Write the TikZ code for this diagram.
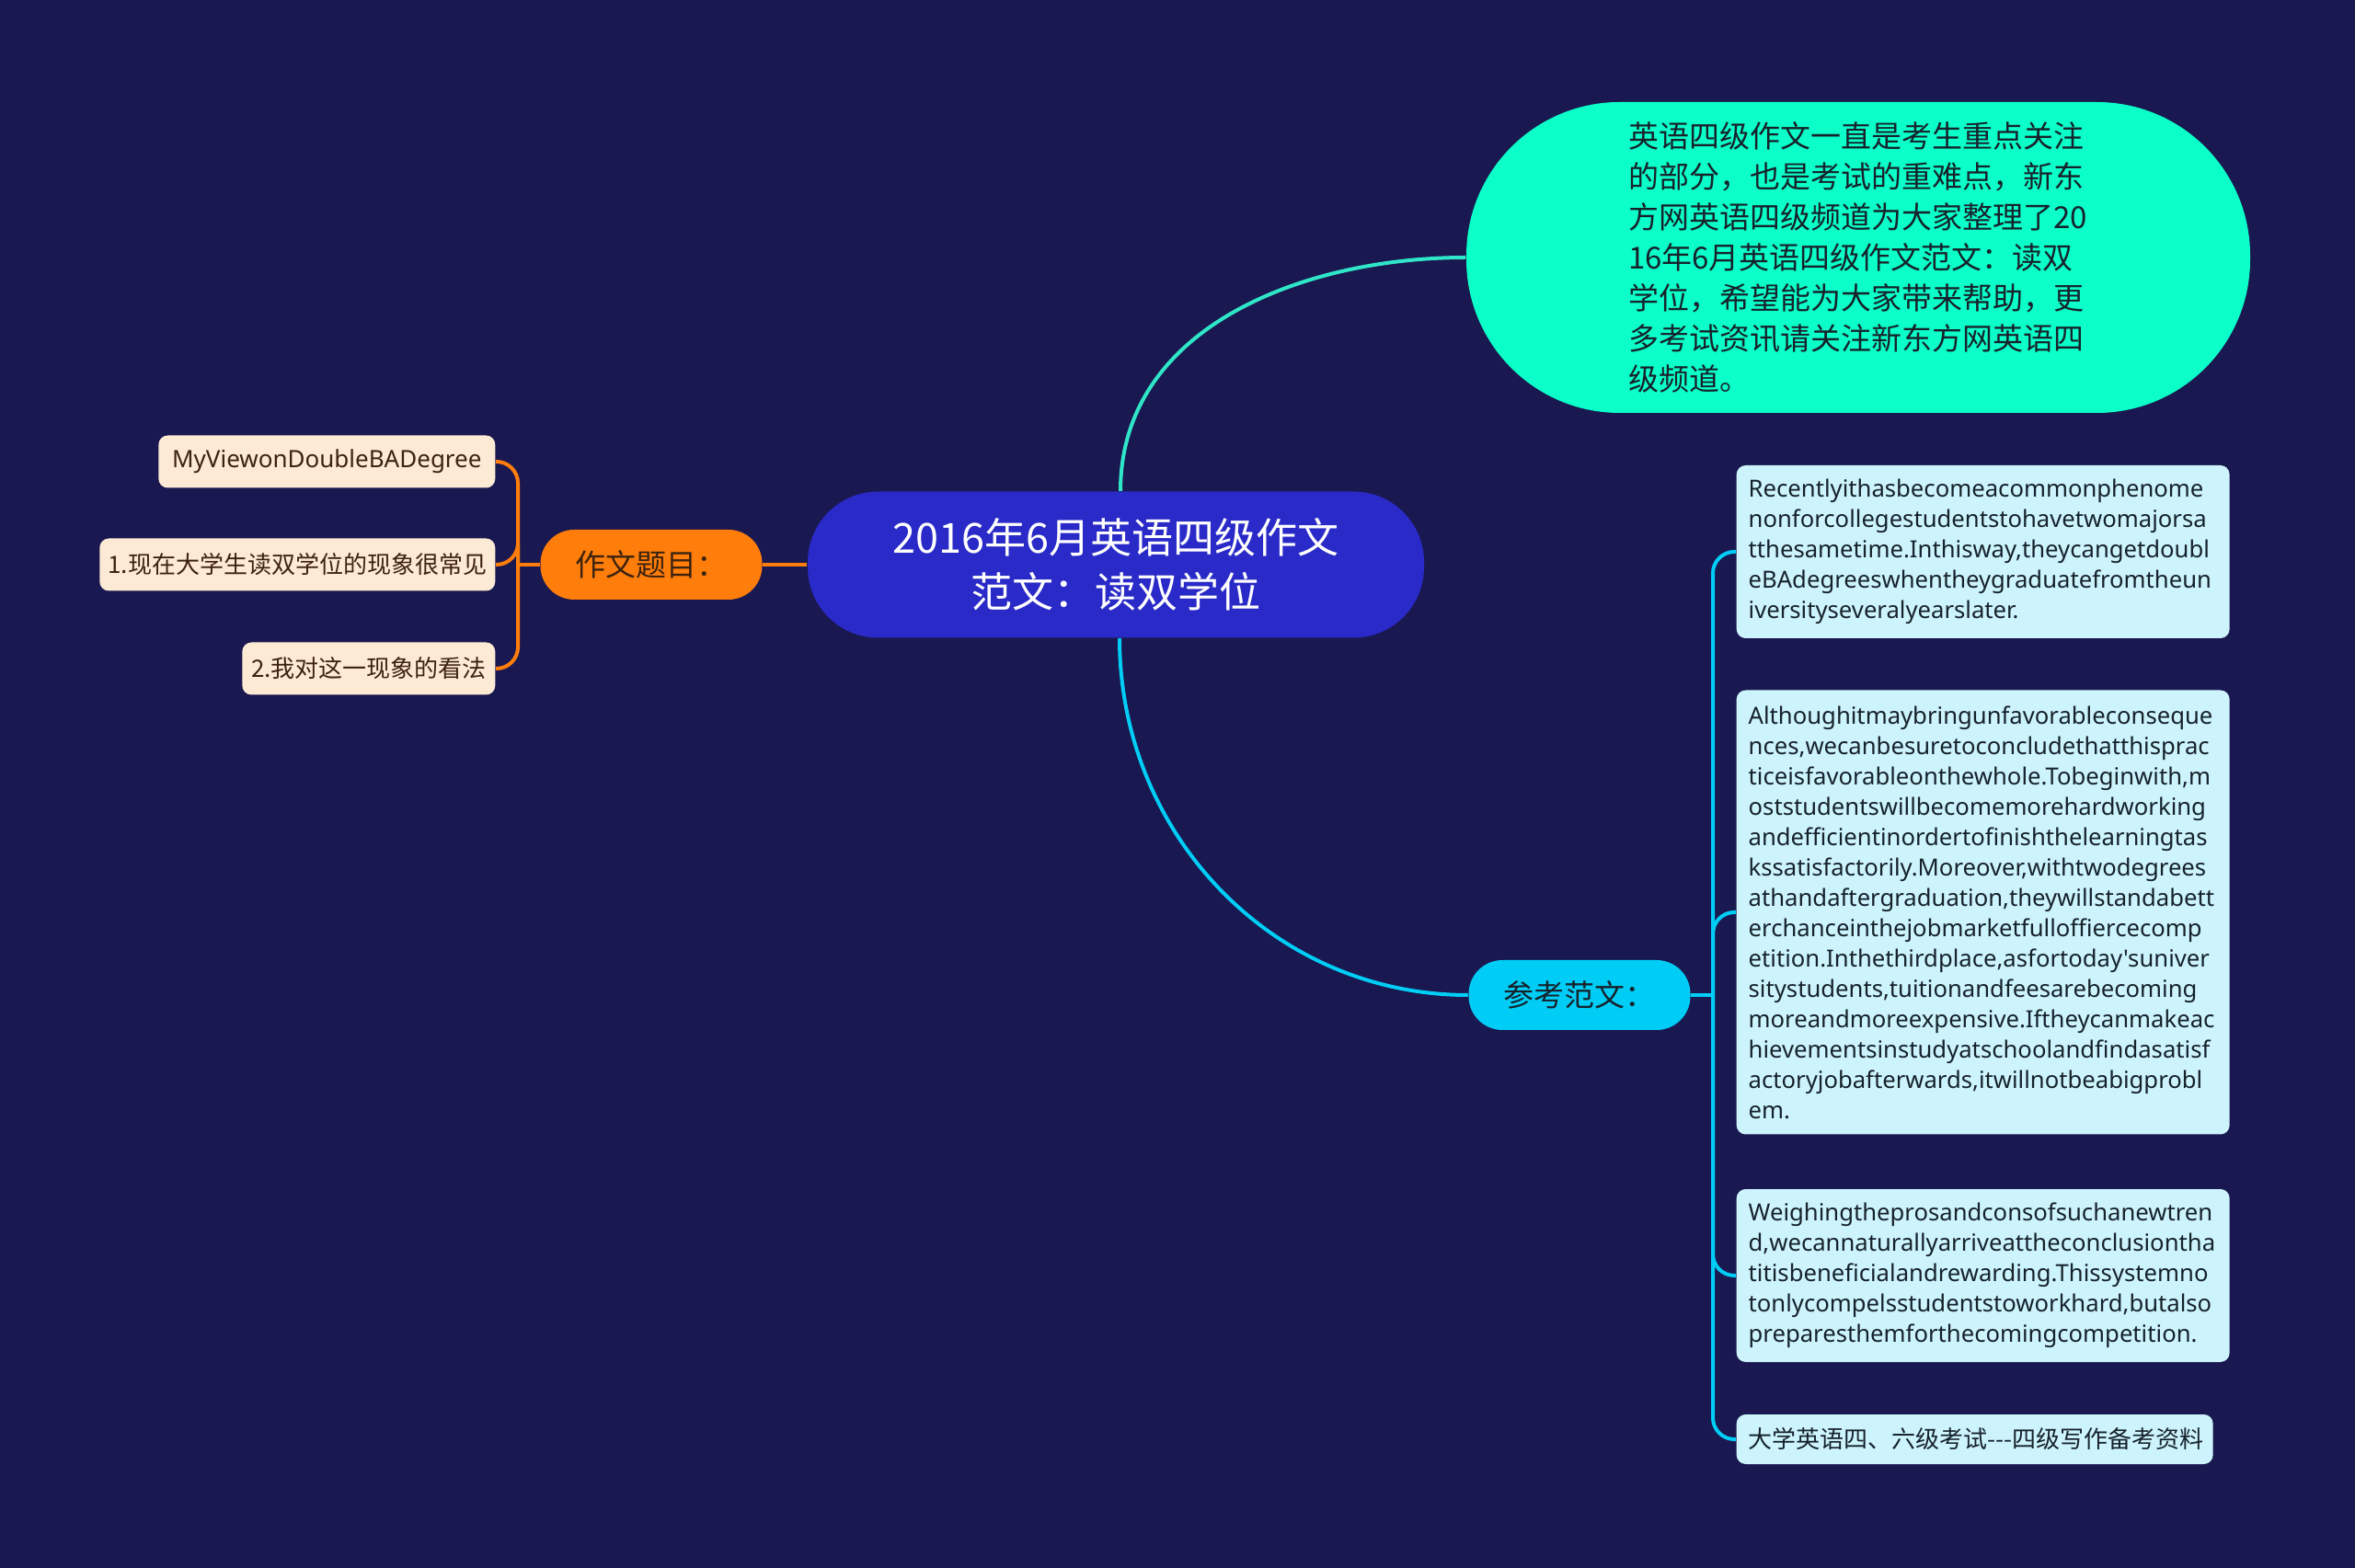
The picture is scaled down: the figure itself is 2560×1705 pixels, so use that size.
\documentclass[tikz,border=0pt]{standalone}
\usepackage{fontspec}
\setmainfont{Noto Sans CJK SC}
\newfontfamily\latinfont{Noto Sans}
\definecolor{bgnavy}{RGB}{25,24,80}
\definecolor{rootblue}{RGB}{42,42,200}
\definecolor{introgreen}{RGB}{12,255,200}
\definecolor{introline}{RGB}{48,230,200}
\definecolor{topicorange}{RGB}{255,125,10}
\definecolor{leafpeach}{RGB}{253,234,212}
\definecolor{refcyan}{RGB}{0,205,245}
\definecolor{leafcyan}{RGB}{205,244,252}
\definecolor{darktext}{RGB}{22,34,44}
\definecolor{browntext}{RGB}{60,35,15}

\tikzset{
  rootbox/.style={fill=rootblue, rounded corners=23pt, minimum width=201pt,
    minimum height=47.7pt, inner sep=0pt, text=white, align=center,
    font=\fontsize{13.5}{17.7}\selectfont},
  introbox/.style={fill=introgreen, rounded corners=50pt, minimum width=255.6pt,
    minimum height=101.4pt, inner sep=0pt, text=darktext, text width=150pt,
    align=left, font=\fontsize{9.9}{13.2}\selectfont},
  branchbox/.style={rounded corners=11pt, minimum width=72.3pt,
    minimum height=22.8pt, inner sep=0pt, font=\fontsize{9.9}{12}\selectfont},
  peachleaf/.style={fill=leafpeach, rounded corners=3pt, minimum height=17.1pt,
    inner sep=0pt, text=browntext, anchor=east, font=\fontsize{7.8}{9.9}\selectfont},
  cyanleaf/.style={fill=leafcyan, rounded corners=3pt, inner xsep=3.9pt,
    inner ysep=0pt, text=darktext, align=left, anchor=west,
    font=\latinfont\fontsize{7.7}{9.9}\selectfont},
  olink/.style={draw=topicorange, line width=1.2pt},
  glink/.style={draw=introline, line width=1.2pt},
  clink/.style={draw=refcyan, line width=1.2pt}
}

\begin{document}
\begin{tikzpicture}[x=0.3pt, y=-0.3pt]

% Background
\fill[bgnavy] (0,0) rectangle (2560,1705);
\useasboundingbox (0,0) rectangle (2560,1705);

% Root
\node[rootbox] (root) at (1213,614) {2016年6月英语四级作文\\范文：读双学位};

% Intro
\node[introbox] (intro) at (2020,280) {英语四级作文一直是考生重点关注\\的部分，也是考试的重难点，新东\\方网英语四级频道为大家整理了20\\16年6月英语四级作文范文：读双\\学位，希望能为大家带来帮助，更\\多考试资讯请关注新东方网英语四\\级频道。};

% Branches
\node[branchbox, fill=topicorange, text=browntext] (topic) at (708,614) {作文题目：};
\node[branchbox, fill=refcyan, text=darktext] (sample) at (1717,1082) {参考范文：};

% Topic leaves
\node[peachleaf, minimum width=109.8pt] (tleaf1) at (539,502) {\latinfont MyViewonDoubleBADegree};
\node[peachleaf, minimum width=129pt] (tleaf2) at (539,614) {1.现在大学生读双学位的现象很常见};
\node[peachleaf, minimum width=82.5pt] (tleaf3) at (539,727) {2.我对这一现象的看法};

% Sample leaves
\node[cyanleaf, text width=153pt, minimum height=56.4pt] (sleaf1) at (1887,600) {Recentlyithasbecomeacommonphenome\\nonforcollegestudentstohavetwomajorsa\\tthesametime.Inthisway,theycangetdoubl\\eBAdegreeswhentheygraduatefromtheun\\iversityseveralyearslater.};
\node[cyanleaf, text width=153pt, minimum height=144.9pt] (sleaf2) at (1887,992) {Althoughitmaybringunfavorableconseque\\nces,wecanbesuretoconcludethatthisprac\\ticeisfavorableonthewhole.Tobeginwith,m\\oststudentswillbecomemorehardworking\\andefficientinordertofinishthelearningtas\\kssatisfactorily.Moreover,withtwodegrees\\athandaftergraduation,theywillstandabett\\erchanceinthejobmarketfulloffiercecomp\\etition.Inthethirdplace,asfortoday'suniver\\sitystudents,tuitionandfeesarebecoming\\moreandmoreexpensive.Iftheycanmakeac\\hievementsinstudyatschoolandfindasatisf\\actoryjobafterwards,itwillnotbeabigprobl\\em.};
\node[cyanleaf, text width=153pt, minimum height=56.4pt] (sleaf3) at (1887,1387) {Weighingtheprosandconsofsuchanewtren\\d,wecannaturallyarriveattheconclusiontha\\titisbeneficialandrewarding.Thissystemno\\tonlycompelsstudentstoworkhard,butalso\\preparesthemforthecomingcompetition.};
\node[cyanleaf, text width=147.6pt, minimum height=16.2pt, font=\fontsize{7.8}{9.9}\selectfont] (sleaf4) at (1887,1565) {\mbox{大学英语四、六级考试-\kern0pt-\kern0pt-四级写作备考资料}};

% Root links
\draw[glink] ([xshift=1.5pt]root.north) to[out=90, in=180] (intro.west);
\draw[clink] ([xshift=1.2pt]root.south) to[out=-90, in=180] (sample.west);
\draw[olink] (root.west) -- (topic.east);

% Topic links
\coordinate (obar) at (563,614);
\draw[olink] (topic.west) -- (obar);
\foreach \n in {1,2,3}{
\draw[olink, rounded corners=7pt] (obar) |- (tleaf\n.east);
}

% Sample links
\coordinate (cbar) at (1862,1082);
\draw[clink] (sample.east) -- (cbar);
\foreach \n in {1,2,3,4}{
\draw[clink, rounded corners=7pt] (cbar) |- (sleaf\n.west);
}

\end{tikzpicture}
\end{document}
